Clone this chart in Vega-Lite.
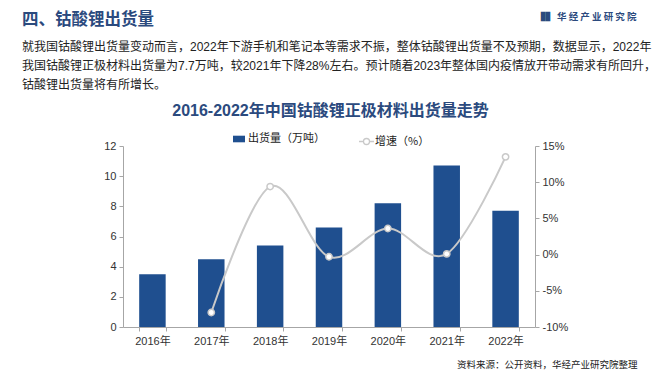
{
  "$schema": "https://vega.github.io/schema/vega-lite/v6.json",
  "width": 412,
  "height": 181,
  "autosize": {"type": "none"},
  "padding": {"left": 123, "top": 146, "right": 125, "bottom": 47},
  "background": "white",
  "config": {
    "view": {"stroke": null},
    "font": "Liberation Sans, Noto Sans CJK SC"
  },
  "title": {
    "text": "四、钴酸锂出货量",
    "subtitle": [
      "就我国钴酸锂出货量变动而言，2022年下游手机和笔记本等需求不振，整体钴酸锂出货量不及预期，数据显示，2022年",
      "我国钴酸锂正极材料出货量为7.7万吨，较2021年下降28%左右。预计随着2023年整体国内疫情放开带动需求有所回升，",
      "钴酸锂出货量将有所增长。"
    ],
    "anchor": "start",
    "frame": "group",
    "dx": -101,
    "offset": -80,
    "font": "Noto Sans CJK SC",
    "fontSize": 16.5,
    "fontWeight": "bold",
    "color": "#2b4a7e",
    "subtitleFont": "Liberation Sans, Noto Sans CJK SC",
    "subtitleFontSize": 12,
    "subtitleColor": "#222222",
    "subtitleLineHeight": 19,
    "subtitlePadding": 14
  },
  "data": {
    "values": [
      {"year": "2016年", "output": 3.5, "growth": null},
      {"year": "2017年", "output": 4.5, "growth": -8.0},
      {"year": "2018年", "output": 5.4, "growth": 9.4},
      {"year": "2019年", "output": 6.6, "growth": -0.3},
      {"year": "2020年", "output": 8.2, "growth": 3.6},
      {"year": "2021年", "output": 10.7, "growth": 0.1},
      {"year": "2022年", "output": 7.7, "growth": 13.5}
    ]
  },
  "layer": [
    {
      "mark": {"type": "bar"},
      "encoding": {
        "x": {
          "field": "year",
          "type": "ordinal",
          "sort": null,
          "scale": {"paddingInner": 0.55, "paddingOuter": 0.275},
          "axis": {
            "title": "资料来源：公开资料，华经产业研究院整理",
            "titleX": 514,
            "titleY": 37,
            "titleAlign": "right",
            "titleBaseline": "middle",
            "titleFont": "Noto Sans CJK SC",
            "titleFontSize": 9.5,
            "titleFontWeight": "normal",
            "titleColor": "#222222",
            "labelAngle": 0,
            "labelFontSize": 11,
            "labelColor": "#333333",
            "labelPadding": 4,
            "tickBand": "extent",
            "tickSize": 4,
            "domainColor": "#a6a6a6",
            "tickColor": "#a6a6a6"
          }
        },
        "y": {
          "field": "output",
          "type": "quantitative",
          "scale": {"domain": [0, 12], "nice": false},
          "axis": {
            "orient": "left",
            "title": "2016-2022年中国钴酸锂正极材料出货量走势",
            "titleAngle": 0,
            "titleX": 207,
            "titleY": -36,
            "titleAlign": "center",
            "titleBaseline": "middle",
            "titleFont": "Liberation Sans, Noto Sans CJK SC",
            "titleFontSize": 16,
            "titleFontWeight": "bold",
            "titleColor": "#2b4a7e",
            "values": [0, 2, 4, 6, 8, 10, 12],
            "grid": false,
            "tickSize": 4,
            "labelPadding": 3,
            "labelFontSize": 11,
            "labelColor": "#333333",
            "domainColor": "#a6a6a6",
            "tickColor": "#a6a6a6"
          }
        },
        "fill": {
          "datum": "出货量（万吨）",
          "scale": {"range": ["#1f4f8f"]},
          "legend": {
            "orient": "none",
            "legendX": 110,
            "legendY": -13,
            "title": null,
            "symbolType": "M-1,-0.55L1,-0.55L1,0.55L-1,0.55Z",
            "symbolSize": 144,
            "symbolStrokeWidth": 0,
            "labelFont": "Noto Sans CJK SC",
            "labelFontSize": 11,
            "labelColor": "#222222",
            "labelOffset": 3
          }
        }
      }
    },
    {
      "mark": {"type": "line", "interpolate": "cardinal", "strokeWidth": 2},
      "encoding": {
        "x": {"field": "year", "type": "ordinal", "sort": null},
        "y": {
          "field": "growth",
          "type": "quantitative",
          "scale": {"domain": [-10, 15], "nice": false},
          "axis": {
            "orient": "right",
            "title": "▐▌  华 经 产 业 研 究 院",
            "titleAngle": 0,
            "titleX": 101,
            "titleY": -130,
            "titleAlign": "right",
            "titleBaseline": "middle",
            "titleFont": "Noto Sans CJK SC",
            "titleFontSize": 9.5,
            "titleFontWeight": "bold",
            "titleColor": "#2b4a7e",
            "values": [-10, -5, 0, 5, 10, 15],
            "labelExpr": "datum.value + '%'",
            "grid": false,
            "tickSize": 4,
            "labelPadding": 3,
            "labelFontSize": 11,
            "labelColor": "#333333",
            "domainColor": "#a6a6a6",
            "tickColor": "#a6a6a6"
          }
        },
        "stroke": {
          "datum": "增速（%）",
          "scale": {"range": ["#c9c9c9"]},
          "legend": {
            "orient": "none",
            "legendX": 235,
            "legendY": -13,
            "title": null,
            "symbolType": "M-1,0L-0.4,0M0.4,0L1,0M0.4,0A0.4,0.4,0,1,1,-0.4,0A0.4,0.4,0,1,1,0.4,0Z",
            "symbolSize": 225,
            "symbolStrokeWidth": 1.3,
            "symbolFillColor": "white",
            "labelFont": "Noto Sans CJK SC",
            "labelFontSize": 11,
            "labelColor": "#222222",
            "labelOffset": 0
          }
        }
      }
    },
    {
      "mark": {"type": "point", "filled": true, "fill": "white", "stroke": "#c9c9c9", "strokeWidth": 1.5, "size": 40, "opacity": 1},
      "encoding": {
        "x": {"field": "year", "type": "ordinal", "sort": null},
        "y": {
          "field": "growth",
          "type": "quantitative",
          "scale": {"domain": [-10, 15], "nice": false},
          "axis": null
        }
      }
    }
  ],
  "resolve": {"scale": {"y": "independent"}}
}
